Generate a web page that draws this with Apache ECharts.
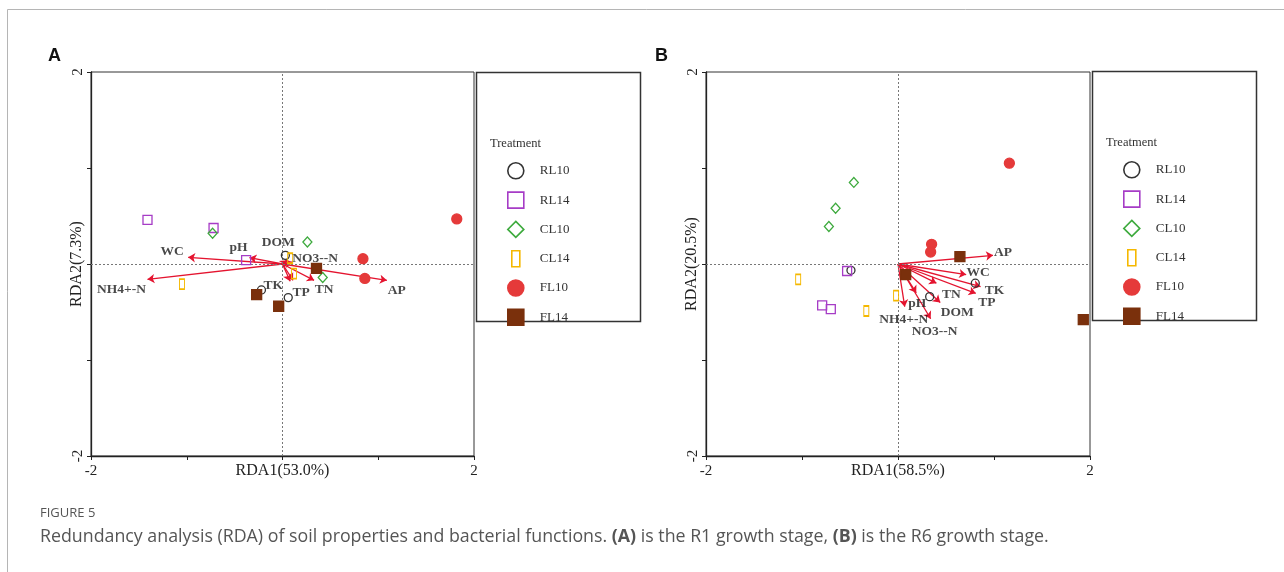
<!DOCTYPE html>
<html><head><meta charset="utf-8">
<script src="https://cdn.jsdelivr.net/npm/echarts@6/dist/echarts.min.js"></script>
<style>html,body{margin:0;padding:0;background:#fff;}#c{width:1284px;height:572px;}</style>
</head><body><div id="c"></div>
<script>
// ---------------- DATA ----------------
const treatments = ['RL10', 'RL14', 'CL10', 'CL14', 'FL10', 'FL14'];
const tickLabels = ['-2', '2'];

// Panel A (R1 stage) sample scores [RDA1, RDA2]
const A_RL10 = [[0.03, 0.09], [-0.22, -0.27], [0.06, -0.35]];
const A_RL14 = [[-1.41, 0.46], [-0.72, 0.375], [-0.38, 0.04]];
const A_CL10 = [[-0.73, 0.32], [0.26, 0.23], [0.42, -0.14]];
const A_CL14 = [[-1.05, -0.21], [0.08, 0.06], [0.12, -0.10]];
const A_FL10 = [[1.82, 0.47], [0.84, 0.055], [0.86, -0.15]];
const A_FL14 = [[0.355, -0.045], [-0.27, -0.32], [-0.04, -0.44]];
// Panel A environmental arrows
const A_vars = ['WC', 'NH4+-N', 'pH', 'DOM', 'NO3--N', 'TK', 'TP', 'TN', 'AP'];
const A_varX = [-0.985, -1.41, -0.345, 0.05, 0.10, 0.08, 0.11, 0.33, 1.09];
const A_varY = [0.07, -0.16, 0.066, 0.04, 0.02, -0.18, -0.17, -0.17, -0.17];
const A_xName = 'RDA1(53.0%)';
const A_yName = 'RDA2(7.3%)';

// Panel B (R6 stage) sample scores
const B_RL10 = [[-0.49, -0.066], [0.805, -0.20], [0.33, -0.34]];
const B_RL14 = [[-0.53, -0.073], [-0.79, -0.43], [-0.70, -0.47]];
const B_CL10 = [[-0.46, 0.85], [-0.65, 0.58], [-0.72, 0.39]];
const B_CL14 = [[-1.04, -0.16], [-0.02, -0.33], [-0.33, -0.49]];
const B_FL10 = [[1.16, 1.05], [0.35, 0.205], [0.34, 0.125]];
const B_FL14 = [[0.645, 0.076], [0.08, -0.11], [1.93, -0.58]];
// Panel B environmental arrows
const B_vars = ['AP', 'WC', 'TK', 'TP', 'TN', 'DOM', 'NO3--N', 'NH4+-N', 'pH'];
const B_varX = [0.99, 0.71, 0.86, 0.81, 0.40, 0.44, 0.34, 0.07, 0.19];
const B_varY = [0.09, -0.11, -0.235, -0.305, -0.20, -0.40, -0.57, -0.445, -0.30];
const B_xName = 'RDA1(58.5%)';
const B_yName = 'RDA2(20.5%)';

// ---------------- STYLE ----------------
const SERIF = '"Liberation Serif","Times New Roman",serif';
const ARROW = '#E4142F';
const styleMap = {
  RL10: { symbol: 'circle', size: 8, fill: 'rgba(255,255,255,0)', stroke: '#333333' },
  RL14: { symbol: 'rect', size: 9, fill: 'rgba(255,255,255,0)', stroke: '#A63CC6' },
  CL10: { symbol: 'diamond', size: [9, 10], fill: 'rgba(255,255,255,0)', stroke: '#3DAA3D' },
  CL14: { symbol: 'rect', size: [5, 10], fill: 'rgba(255,255,255,0)', stroke: '#F5B800' },
  FL10: { symbol: 'circle', size: 10, fill: '#E53A3A', stroke: '#E53A3A' },
  FL14: { symbol: 'rect', size: 10, fill: '#7A300C', stroke: '#7A300C' }
};
// label offsets in px relative to arrow tips
const A_labelOffset = [[-16, -6], [-26, 10], [-11, -10], [-9, -18], [23, -4], [-17, 4], [8, 12], [10, 9], [10, 10]];
const B_labelOffset = [[10, -3], [12, -2], [14, 4], [11, 9], [15, 11], [17, 10], [4, 13], [-1, 13], [1, 11]];

const panels = [
  { idx: 0, pts: { RL10: A_RL10, RL14: A_RL14, CL10: A_CL10, CL14: A_CL14, FL10: A_FL10, FL14: A_FL14 },
    vars: A_vars, vx: A_varX, vy: A_varY, off: A_labelOffset, xName: A_xName, yName: A_yName,
    grid: { left: 91, top: 72, width: 383, height: 384 } },
  { idx: 1, pts: { RL10: B_RL10, RL14: B_RL14, CL10: B_CL10, CL14: B_CL14, FL10: B_FL10, FL14: B_FL14 },
    vars: B_vars, vx: B_varX, vy: B_varY, off: B_labelOffset, xName: B_xName, yName: B_yName,
    grid: { left: 706, top: 72, width: 384, height: 384 } }
];

const grids = [], xAxes = [], yAxes = [], series = [];
panels.forEach(p => {
  grids.push(Object.assign({ show: true, borderColor: '#333', borderWidth: 1, backgroundColor: 'transparent' }, p.grid));
  const lbl = v => (tickLabels.indexOf(String(v)) >= 0 ? String(v) : '');
  xAxes.push({
    gridIndex: p.idx, type: 'value', min: -2, max: 2, interval: 1,
    axisLine: { onZero: false, lineStyle: { color: '#222', width: 1.3 } },
    axisTick: { length: 4, lineStyle: { color: '#222' } },
    axisLabel: { formatter: lbl, fontFamily: SERIF, fontSize: 15, color: '#222', margin: 8 },
    splitLine: { show: false },
    name: p.xName, nameLocation: 'middle', nameGap: 7, nameMoveOverlap: false,
    nameTextStyle: { fontFamily: SERIF, fontSize: 16, color: '#222', verticalAlign: 'top' }
  });
  yAxes.push({
    gridIndex: p.idx, type: 'value', min: -2, max: 2, interval: 1,
    axisLine: { onZero: false, lineStyle: { color: '#222', width: 1.3 } },
    axisTick: { length: 4, lineStyle: { color: '#222' } },
    axisLabel: { formatter: lbl, fontFamily: SERIF, fontSize: 15, color: '#222', margin: 5, rotate: 90 },
    splitLine: { show: false },
    name: p.yName, nameLocation: 'middle', nameGap: 6, nameRotate: 90, nameMoveOverlap: false,
    nameTextStyle: { fontFamily: SERIF, fontSize: 16, color: '#222' }
  });
  // zero reference lines
  series.push({
    type: 'scatter', xAxisIndex: p.idx, yAxisIndex: p.idx, data: [], silent: true, z: 1,
    markLine: {
      silent: true, symbol: 'none', label: { show: false }, animation: false,
      lineStyle: { color: '#777', type: [2, 2], width: 1 },
      data: [{ xAxis: 0 }, { yAxis: 0 }]
    }
  });
  // arrows
  series.push({
    type: 'lines', coordinateSystem: 'cartesian2d', xAxisIndex: p.idx, yAxisIndex: p.idx,
    symbol: ['none', 'arrow'], symbolSize: 7, silent: true, z: 3,
    lineStyle: { color: ARROW, width: 1.3, opacity: 1 },
    data: p.vars.map((n, i) => ({ coords: [[0, 0], [p.vx[i], p.vy[i]]] }))
  });
  // arrow labels
  series.push({
    type: 'scatter', xAxisIndex: p.idx, yAxisIndex: p.idx, symbolSize: 0, silent: true, z: 6,
    label: { show: true, position: 'inside', formatter: '{b}', fontFamily: SERIF, fontWeight: 'bold', fontSize: 13.5, color: '#1a1a1a' },
    data: p.vars.map((n, i) => ({ name: n, value: [p.vx[i], p.vy[i]], label: { offset: p.off[i] } }))
  });
  // samples
  treatments.forEach(t => {
    const s = styleMap[t];
    series.push({
      name: t, type: 'scatter', xAxisIndex: p.idx, yAxisIndex: p.idx, z: 5,
      symbol: s.symbol, symbolSize: s.size,
      itemStyle: { color: s.fill, borderColor: s.stroke, borderWidth: 1.3, opacity: 1 },
      data: p.pts[t]
    });
  });
});

const legendData = treatments.map(t => t === 'CL14'
  ? { name: t, icon: 'path://M0,0L8,0L8,16L0,16Z', symbolKeepAspect: true }
  : { name: t });
const legendCommon = {
  orient: 'vertical', itemWidth: 16, itemHeight: 16, itemGap: 11.7, padding: 0,
  selectedMode: false, data: legendData, symbolKeepAspect: true,
  itemStyle: { borderWidth: 1.6 },
  textStyle: { fontFamily: SERIF, fontSize: 13, color: '#333', padding: [0, 0, 0, 11] }
};

const option = {
  backgroundColor: '#fff',
  animation: false,
  grid: grids, xAxis: xAxes, yAxis: yAxes, series: series,
  legend: [
    Object.assign({ left: 507, top: 162 }, legendCommon),
    Object.assign({ left: 1123, top: 161 }, legendCommon)
  ],
  graphic: [
    { type: 'rect', silent: true, z: -10, shape: { x: 7.5, y: 9.5, width: 1400, height: 700 }, style: { fill: 'none', stroke: '#b5b5b5', lineWidth: 1 } },
    { type: 'rect', silent: true, shape: { x: 476.5, y: 72.5, width: 164, height: 249 }, style: { fill: 'none', stroke: '#333', lineWidth: 1.5 } },
    { type: 'rect', silent: true, shape: { x: 1092.5, y: 71.5, width: 164, height: 249 }, style: { fill: 'none', stroke: '#333', lineWidth: 1.5 } },
    { type: 'text', left: 490, top: 137, silent: true, style: { text: 'Treatment', font: '12.5px ' + SERIF, fill: '#333' } },
    { type: 'text', left: 1106, top: 136, silent: true, style: { text: 'Treatment', font: '12.5px ' + SERIF, fill: '#333' } },
    { type: 'text', left: 48, top: 47, silent: true, style: { text: 'A', font: 'bold 18px "Liberation Sans",Arial,sans-serif', fill: '#111' } },
    { type: 'text', left: 655, top: 47, silent: true, style: { text: 'B', font: 'bold 18px "Liberation Sans",Arial,sans-serif', fill: '#111' } },
    { type: 'text', left: 40, top: 507, silent: true, style: { text: 'FIGURE 5', font: '13px "Open Sans",sans-serif', fill: '#555' } },
    { type: 'text', left: 40, top: 528, silent: true, style: {
      text: '{n|Redundancy analysis (RDA) of soil properties and bacterial functions. }{b|(A)}{n| is the R1 growth stage, }{b|(B)}{n| is the R6 growth stage.}',
      rich: {
        n: { fontFamily: '"Open Sans",sans-serif', fontSize: 17.8, fill: '#555', color: '#555' },
        b: { fontFamily: '"Open Sans",sans-serif', fontSize: 17.8, fontWeight: 'bold', fill: '#555', color: '#555' }
      } } }
  ]
};
const chart = echarts.init(document.getElementById('c'), null, { renderer: 'canvas' });
chart.setOption(option);
</script></body></html>
